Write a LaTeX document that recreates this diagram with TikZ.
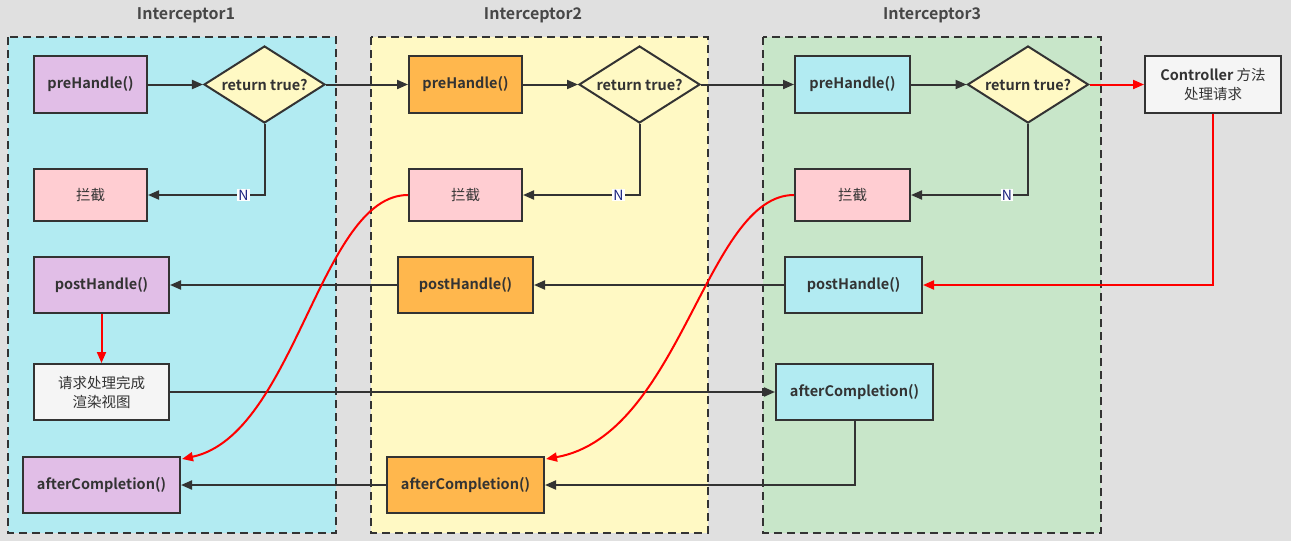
\documentclass[tikz,border=0pt]{standalone}
\usepackage{fontspec}
\setmainfont{Noto Sans CJK SC}[BoldFont={Noto Sans CJK SC Bold}]
\usetikzlibrary{arrows.meta,shapes.geometric}
\definecolor{bg}{HTML}{E0E0E0}
\definecolor{cyanr}{HTML}{B2EBF2}
\definecolor{yelr}{HTML}{FFF9C4}
\definecolor{greenr}{HTML}{C8E6C9}
\definecolor{lav}{HTML}{E1BEE7}
\definecolor{orng}{HTML}{FFB74D}
\definecolor{pnk}{HTML}{FFCDD2}
\definecolor{wbox}{HTML}{F5F5F5}
\definecolor{ln}{HTML}{333333}
\definecolor{txt}{HTML}{333333}
\definecolor{nblue}{HTML}{1A237E}
\begin{document}
\begin{tikzpicture}[x=1pt,y=-1pt,
  region/.style={draw=ln, line width=2pt, dash pattern=on 8pt off 5pt},
  title/.style={font=\bfseries\fontsize{16}{18}\selectfont, text=ln!90!white},
  box/.style={draw=ln, line width=2pt, inner sep=0pt, text=txt, align=center,
    font=\bfseries\fontsize{14.5}{16}\selectfont},
  cbox/.style={box, font=\fontsize{14.5}{19}\selectfont},
  bsz/.style 2 args={minimum width=#1, minimum height=#2},
  dia/.style={diamond, draw=ln, line width=2pt, fill=yelr, inner sep=0pt,
    minimum width=121, minimum height=77, shape aspect=1.57, text=txt,
    font=\bfseries\fontsize{14.5}{16}\selectfont},
  arr/.style={draw=ln, line width=2pt, -{Triangle[length=11pt,width=9pt]}},
  redarr/.style={draw=red, line width=2pt, -{Triangle[length=11pt,width=9pt]}},
  nlab/.style={fill=white, inner sep=1pt, text=nblue, font=\fontsize{14}{15}\selectfont}
]
\fill[bg] (0,0) rectangle (1291,541);
\useasboundingbox (0,0) rectangle (1291,541);

% regions
\filldraw[region, fill=cyanr] (8,37) rectangle (336,533);
\filldraw[region, fill=yelr] (371,37) rectangle (708,533);
\filldraw[region, fill=greenr] (763,37) rectangle (1101,533);
\node[title] (t1) at (186,15) {Interceptor1};
\node[title] (t2) at (533,15) {Interceptor2};
\node[title] (t3) at (932,15) {Interceptor3};

% Interceptor1
\node[box, fill=lav, bsz={113}{57}] (pre1) at (90.5,84.5) {preHandle()};
\node[dia] (d1) at (264.5,84.5) {return true?};
\node[cbox, fill=pnk, bsz={113}{52}] (ld1) at (90.5,195) {拦截};
\node[box, fill=lav, bsz={135}{56}] (post1) at (101.5,285) {postHandle()};
\node[cbox, fill=wbox, bsz={135}{56}] (req) at (101.5,392) {请求处理完成\\渲染视图};
\node[box, fill=lav, bsz={157}{56}] (after1) at (101.5,485) {afterCompletion()};

% Interceptor2
\node[box, fill=orng, bsz={113}{57}] (pre2) at (465.5,84.5) {preHandle()};
\node[dia] (d2) at (639.5,84.5) {return true?};
\node[cbox, fill=pnk, bsz={113}{52}] (ld2) at (465.5,195) {拦截};
\node[box, fill=orng, bsz={135}{56}] (post2) at (465.5,285) {postHandle()};
\node[box, fill=orng, bsz={157}{56}] (after2) at (465.5,485) {afterCompletion()};

% Interceptor3
\node[box, fill=cyanr, bsz={115}{57}] (pre3) at (852.5,84.5) {preHandle()};
\node[dia] (d3) at (1028,84.5) {return true?};
\node[cbox, fill=pnk, bsz={115}{52}] (ld3) at (852.5,195) {拦截};
\node[box, fill=cyanr, bsz={137}{56}] (post3) at (853.5,285) {postHandle()};
\node[box, fill=cyanr, bsz={157}{56}] (after3) at (854.5,392) {afterCompletion()};

% Controller
\node[box, fill=wbox, bsz={136}{57}, font=\fontsize{14.5}{19}\selectfont] (ctrl) at (1213,84.5) {\textbf{Controller} 方法\\处理请求};

% forward flow
\draw[arr] (pre1) -- (d1);
\draw[arr] (d1.east) -- (pre2.west);
\draw[arr] (pre2) -- (d2);
\draw[arr] (d2.east) -- (pre3.west);
\draw[arr] (pre3) -- (d3);
\draw[redarr] (d3.east) -- (ctrl.west);

% N branches
\draw[arr] (d1.south) |- node[nlab, pos=0.59] {N} (ld1.east);
\draw[arr] (d2.south) |- node[nlab, pos=0.59] {N} (ld2.east);
\draw[arr] (d3.south) |- node[nlab, pos=0.59] {N} (ld3.east);

% backward flow
\draw[redarr] (ctrl.south) |- (post3.east);
\draw[arr] (post3.west) -- (post2.east);
\draw[arr] (post2.west) -- (post1.east);
\draw[redarr] (post1) -- (req);
\draw[arr] (req.east) -- (after3.west);
\draw[arr] (after3.south) |- (after2.east);
\draw[arr] (after2.west) -- (after1.east);

% intercept curves
\draw[redarr] (ld2.west) .. controls (320,195) and (295,435) .. ([xshift=1pt,yshift=-3pt]after1.north east);
\draw[redarr] (ld3.west) .. controls (706,195) and (681,435) .. ([xshift=1pt,yshift=-3pt]after2.north east);
\end{tikzpicture}
\end{document}
